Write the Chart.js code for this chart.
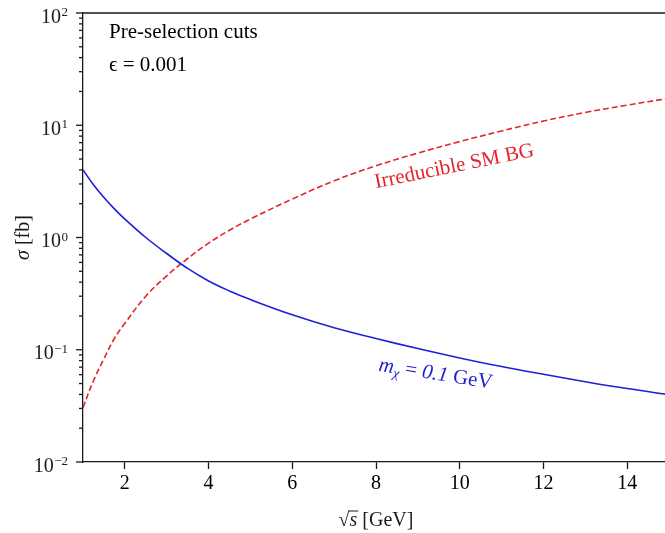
<!DOCTYPE html>
<html>
<head>
<meta charset="utf-8">
<script src="https://cdn.jsdelivr.net/npm/chart.js@4"></script>
<style>
    html, body { margin: 0; padding: 0; overflow: hidden; background: #fff; }
</style>
</head>
<body>
<canvas id="grafico" width="670" height="533"></canvas>
<script>
/* DADOS */
const sqrtS = [1, 1.25, 1.5, 1.75, 2, 2.5, 3, 3.5, 4, 4.5, 5, 6, 7, 8, 9, 10, 11, 12, 13, 14, 15];
const sigmaDM = [4.0, 2.95, 2.27, 1.8, 1.46, 1.0, 0.72, 0.53, 0.41, 0.334, 0.28, 0.205, 0.157, 0.126, 0.1025, 0.0845, 0.0708, 0.0605, 0.0519, 0.0451, 0.0398];
const sigmaBG = [0.0305, 0.053, 0.083, 0.126, 0.172, 0.30, 0.455, 0.65, 0.89, 1.16, 1.46, 2.2, 3.2, 4.35, 5.65, 7.15, 8.9, 10.9, 13.0, 15.1, 17.4];
const xTicks = [2, 4, 6, 8, 10, 12, 14];
const yDecadas = [-2, -1, 0, 1, 2];
const yExpoentes = ['\u22122', '\u22121', '0', '1', '2'];

const FONTE = '"Liberation Serif", "Times New Roman", serif';
const AZUL = '#1f1fd6';
const VERMELHO = '#e3242b';

function pontos(ys) {
    return sqrtS.map((x, i) => ({ x: x, y: ys[i] }));
}

/* texto em partes: [texto, fonte, deslocamento vertical] */
function larguraPartes(ctx, partes) {
    let w = 0;
    partes.forEach(p => { ctx.font = p[1]; w += ctx.measureText(p[0]).width; });
    return w;
}
function desenharPartes(ctx, partes, x, y) {
    ctx.textAlign = 'left';
    ctx.textBaseline = 'alphabetic';
    partes.forEach(p => {
        ctx.font = p[1];
        ctx.fillText(p[0], x, y + (p[2] || 0));
        x += ctx.measureText(p[0]).width;
    });
    return x;
}

/* MOLDURA, EIXO Y LOG E TEXTOS */
const moldura = {
    id: 'moldura',
    afterDraw(chart) {
        const { ctx, chartArea: a, scales: { x, y } } = chart;
        ctx.save();
        ctx.strokeStyle = '#1a1a1a';
        ctx.fillStyle = '#1a1a1a';
        ctx.lineWidth = 1.3;

        ctx.beginPath();
        ctx.moveTo(a.left, a.top);
        ctx.lineTo(a.right, a.top);
        ctx.lineTo(a.right, a.bottom);
        ctx.stroke();

        // ticks do eixo y
        yDecadas.forEach((d, i) => {
            const py = y.getPixelForValue(Math.pow(10, d));
            ctx.beginPath();
            ctx.moveTo(a.left - 7, py);
            ctx.lineTo(a.left, py);
            ctx.stroke();

            ctx.textBaseline = 'alphabetic';
            ctx.textAlign = 'right';
            ctx.font = '13px ' + FONTE;
            const wExp = ctx.measureText(yExpoentes[i]).width;
            ctx.fillText(yExpoentes[i], a.left - 15, py + 3);
            ctx.font = '20px ' + FONTE;
            ctx.fillText('10', a.left - 15 - wExp - 0.5, py + 9.5);

            if (d < 2) {
                for (let m = 2; m <= 9; m++) {
                    const pm = y.getPixelForValue(m * Math.pow(10, d));
                    ctx.beginPath();
                    ctx.moveTo(a.left - 4, pm);
                    ctx.lineTo(a.left, pm);
                    ctx.stroke();
                }
            }
        });

        // titulo x: raiz de s [GeV]
        const reg = '20px ' + FONTE;
        const ita = 'italic 20px ' + FONTE;
        ctx.font = reg;
        const wRaiz = ctx.measureText('\u221A').width;
        const partesX = [['\u221A', reg], ['s', ita], [' [GeV]', reg]];
        const wX = larguraPartes(ctx, partesX);
        const x0 = (a.left + a.right) / 2 - wX / 2;
        const by = 526;
        desenharPartes(ctx, partesX, x0, by);
        ctx.font = ita;
        const wS = ctx.measureText('s').width;
        ctx.lineWidth = 1;
        ctx.beginPath();
        ctx.moveTo(x0 + wRaiz - 1, by - 15);
        ctx.lineTo(x0 + wRaiz + wS + 1, by - 15);
        ctx.stroke();

        // titulo y
        ctx.save();
        ctx.translate(29, (a.top + a.bottom) / 2);
        ctx.rotate(-Math.PI / 2);
        const partesY = [['\u03C3', ita], [' [fb]', reg]];
        desenharPartes(ctx, partesY, -larguraPartes(ctx, partesY) / 2, 0);
        ctx.restore();

        // textos no canto
        const canto = '21px ' + FONTE;
        ctx.fillStyle = '#000';
        desenharPartes(ctx, [['Pre-selection cuts', canto]], a.left + 26, 38);
        desenharPartes(ctx, [['\u03F5 = 0.001', canto]], a.left + 26, 71);

        // rotulos das curvas
        ctx.save();
        ctx.translate(x.getPixelForValue(8), y.getPixelForValue(2.75));
        ctx.rotate(-11.5 * Math.PI / 180);
        ctx.fillStyle = VERMELHO;
        desenharPartes(ctx, [['Irreducible SM BG', '21px ' + FONTE]], 0, 0);
        ctx.restore();

        ctx.save();
        ctx.translate(x.getPixelForValue(8.05), y.getPixelForValue(0.065));
        ctx.rotate(9 * Math.PI / 180);
        ctx.fillStyle = AZUL;
        desenharPartes(ctx, [
            ['m', 'italic 21px ' + FONTE],
            ['\u03C7', 'italic 14px ' + FONTE, 4],
            [' = ', '21px ' + FONTE],
            ['0.1', 'italic 21px ' + FONTE],
            [' GeV', '21px ' + FONTE]
        ], 0, 0);
        ctx.restore();

        ctx.restore();
    }
};

/* GRAFICO */
new Chart(document.getElementById('grafico'), {
    type: 'line',
    data: {
        datasets: [{
            label: 'm_chi = 0.1 GeV',
            data: pontos(sigmaDM),
            borderColor: AZUL,
            borderWidth: 1.6,
            pointRadius: 0,
            tension: 0.4
        }, {
            label: 'Irreducible SM BG',
            data: pontos(sigmaBG),
            borderColor: VERMELHO,
            borderWidth: 1.6,
            borderDash: [6, 3],
            pointRadius: 0,
            tension: 0.4
        }]
    },
    options: {
        responsive: false,
        animation: false,
        layout: { padding: { top: 13, right: 1, left: 0, bottom: 0 } },
        plugins: { legend: { display: false }, tooltip: { enabled: false } },
        scales: {
            x: {
                type: 'linear',
                min: 1,
                max: 15,
                afterBuildTicks: s => { s.ticks = xTicks.map(v => ({ value: v })); },
                afterFit: s => { s.height = 71; },
                grid: { drawOnChartArea: false, tickLength: 7, tickColor: '#1a1a1a', tickWidth: 1.3 },
                border: { color: '#1a1a1a', width: 1.3 },
                ticks: { color: '#000', font: { family: FONTE, size: 20 }, padding: 3, maxRotation: 0 }
            },
            y: {
                type: 'logarithmic',
                min: 0.01,
                max: 100,
                afterFit: s => { s.width = 83; },
                grid: { display: false },
                border: { color: '#1a1a1a', width: 1.3 },
                ticks: { display: false }
            }
        }
    },
    plugins: [moldura]
});
</script>
</body>
</html>
